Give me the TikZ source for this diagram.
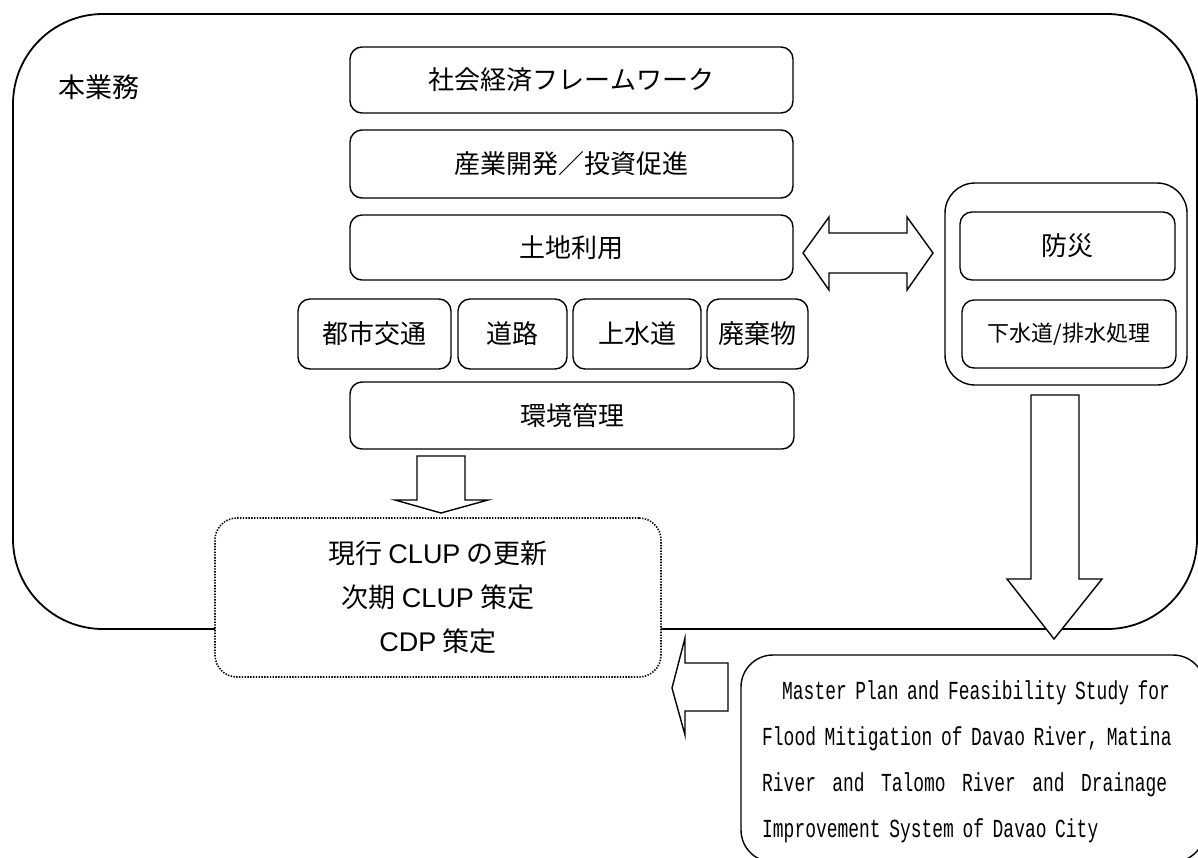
\documentclass[tikz,border=0pt]{standalone}
\usepackage{fontspec}
\setmainfont{Noto Sans CJK JP}
\newfontfamily\latinf{Liberation Sans}
\newfontfamily\monof[FakeStretch=0.69]{Liberation Mono}
\begin{document}
\begin{tikzpicture}[x=1pt,y=-1pt,
  box/.style={draw, line width=1.4pt, rounded corners=12pt, inner sep=0pt, fill=white,
    font=\fontsize{26}{30}\selectfont},
  blockarrow/.style={draw, line width=1.4pt, fill=white, line join=miter}]
\useasboundingbox (0,0) rectangle (1198,857);
% outer frame
\node[draw, line width=1.8pt, rounded corners=90pt, minimum width=1184pt, minimum height=615pt, inner sep=0pt] (main) at (605,321.5) {};
\node[font=\fontsize{27}{30}\selectfont, inner sep=0pt] (title) at (99,87) {本業務};
% column
\node[box, minimum width=443pt, minimum height=66pt] (socio) at (571.5,80) {社会経済フレームワーク};
\node[box, minimum width=443pt, minimum height=68pt] (indus) at (571.5,164) {産業開発／投資促進};
\node[box, minimum width=443pt, minimum height=65pt] (land) at (571.5,247.5) {土地利用};
\node[box, minimum width=153pt, minimum height=70pt] (trans) at (374.5,334) {都市交通};
\node[box, minimum width=109pt, minimum height=70pt] (road) at (512.5,334) {道路};
\node[box, minimum width=128pt, minimum height=70pt] (water) at (637,334) {上水道};
\node[box, minimum width=101pt, minimum height=70pt] (waste) at (757.5,334) {廃棄物};
\node[box, minimum width=444pt, minimum height=67pt] (env) at (572,415.5) {環境管理};
% right group
\node[draw, line width=1.4pt, rounded corners=30pt, minimum width=242pt, minimum height=202pt, inner sep=0pt] (grp) at (1066,284) {};
\node[box, minimum width=215pt, minimum height=68pt] (disaster) at (1067.5,246) {防災};
\node[box, minimum width=214pt, minimum height=68pt, font=\fontsize{22}{26}\selectfont] (sewer) at (1069,334) {下水道/排水処理};
% CLUP box
\node[draw, line width=1.6pt, dash pattern=on 1.4pt off 1.4pt, fill=white, rounded corners=22pt,
  minimum width=446pt, minimum height=159pt, inner sep=0pt, align=center,
  font=\fontsize{27}{44}\selectfont] (clup) at (438,597.5)
  {現行 {\latinf CLUP} の更新\\次期 {\latinf CLUP} 策定\\{\latinf CDP} 策定};
% master plan box
\node[draw, line width=1.4pt, rounded corners=32pt, minimum width=464pt, minimum height=207pt, inner sep=0pt] (mp) at (973,758.5) {};
\node[font=\monof\fontsize{26}{46}\selectfont, text width=430pt, align=left, inner sep=0pt, anchor=west] (mptext) at (762,762)
  {\hspace*{20pt}Master Plan and Feasibility Study for\\
   Flood Mitigation of Davao River, Matina\\
   \leavevmode\hbox to 405pt{River\hfill and\hfill Talomo\hfill River\hfill and\hfill Drainage}\\
   Improvement System of Davao City};
% block arrows
\draw[blockarrow] (803,253) -- (829,217) -- (829,233) -- (907,233) -- (907,217) -- (933,253)
  -- (907,290) -- (907,273) -- (829,273) -- (829,290) -- cycle;
\draw[blockarrow] (1031,395) -- (1079,395) -- (1079,579) -- (1102,579) -- (1054,639)
  -- (1007,579) -- (1031,579) -- cycle;
\draw[blockarrow] (417,456) -- (465,456) -- (465,500) -- (488,500) -- (441,513)
  -- (395,500) -- (417,500) -- cycle;
\draw[blockarrow] (728,663) -- (728,711) -- (685,711) -- (685,735) -- (672,688)
  -- (685,638) -- (685,663) -- cycle;
\end{tikzpicture}
\end{document}
